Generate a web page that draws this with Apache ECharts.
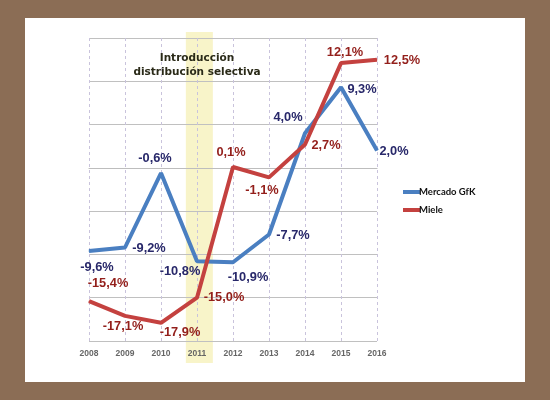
<!DOCTYPE html>
<html><head><meta charset="utf-8">
<script src="https://cdn.jsdelivr.net/npm/echarts@6/dist/echarts.min.js"></script>
<style>
html,body{margin:0;padding:0;background:#8B6D55;width:550px;height:400px;overflow:hidden;}
#frame{position:absolute;left:25px;top:18px;width:500px;height:364px;background:#fff;}
#chart{position:absolute;left:0;top:0;width:550px;height:400px;}
</style>
</head><body>
<div id="frame"></div>
<div id="chart"></div>
<script>
const years = ['2008','2009','2010','2011','2012','2013','2014','2015','2016'];
const gfk = [-9.6, -9.2, -0.6, -10.8, -10.9, -7.7, 4.0, 9.3, 2.0];
const miele = [-15.4, -17.1, -17.9, -15.0, 0.1, -1.1, 2.7, 12.1, 12.5];
const highlightYear = '2011';
const annotation = 'Introducción\ndistribución selectiva';

// label placement (pixel offsets from each point)
const gfkLabelOffsets = [[8,17],[24,1],[-6,-15],[-17,10],[15,15],[24,1],[-17,-16],[21,2],[17,1]];
const mieleLabelOffsets = [[19,-18],[-2,11],[19,10],[27,0],[-2,-15],[-7,13],[21,1],[4,-11],[25,1]];

const fmt = v => v.toFixed(1).replace('.', ',') + '%';

function buildData(vals, offs) {
  return vals.map((v, i) => ({
    value: v,
    label: { offset: offs[i] }
  }));
}

const chart = echarts.init(document.getElementById('chart'));
const labelBase = (color) => ({
  show: true, position: 'inside', color: color,
  fontFamily: 'Liberation Sans, Arial, sans-serif', fontWeight: 'bold', fontSize: 12.8,
  formatter: p => fmt(p.value)
});

chart.setOption({
  animation: false,
  grid: { left: 89, right: 173, top: 38, bottom: 59, containLabel: false },
  legend: {
    orient: 'vertical', left: 398, top: 182, itemGap: 8,
    itemWidth: 17, itemHeight: 4, icon: 'rect',
    textStyle: { fontFamily: 'Lato, sans-serif', fontWeight: 'bold', fontSize: 9.5, color: '#111', padding: [0,0,0,-6] },
    data: ['Mercado GfK', 'Miele']
  },
  xAxis: {
    type: 'category', data: years, boundaryGap: false,
    axisLine: { show: true, lineStyle: { color: '#BDBDBD', width: 1.2 } },
    axisTick: { show: false },
    axisLabel: { color: '#666666', fontFamily: 'Liberation Sans, Arial, sans-serif', fontWeight: 'bold', fontSize: 8.5, margin: 8 },
    splitLine: { show: true, lineStyle: { color: '#C9C3DC', type: [3,3], width: 1 } }
  },
  yAxis: {
    type: 'value', min: -20, max: 15, interval: 5,
    axisLine: { show: false }, axisTick: { show: false }, axisLabel: { show: false },
    splitLine: { show: true, lineStyle: { color: '#C0C0C0', width: 1.2 } }
  },
  series: [
    {
      name: 'Mercado GfK', type: 'line', data: buildData(gfk, gfkLabelOffsets),
      symbol: 'circle', symbolSize: 1, showSymbol: true,
      lineStyle: { color: '#4A7FC1', width: 4 }, itemStyle: { color: '#4A7FC1' },
      label: labelBase('#28286A'), z: 3
    },
    {
      name: 'Miele', type: 'line', data: buildData(miele, mieleLabelOffsets),
      symbol: 'circle', symbolSize: 1, showSymbol: true,
      lineStyle: { color: '#C4413F', width: 4 }, itemStyle: { color: '#C4413F' },
      label: labelBase('#931F1B'), z: 4
    }
  ]
});

const xh = chart.convertToPixel({ xAxisIndex: 0 }, highlightYear);
const xn = chart.convertToPixel({ xAxisIndex: 0 }, years[years.indexOf(highlightYear) + 1]);
const step = xn - xh;
const yTop = chart.convertToPixel({ yAxisIndex: 0 }, 15);
const yBot = chart.convertToPixel({ yAxisIndex: 0 }, -20);
chart.setOption({
  graphic: [
    { type: 'rect', z: -1, silent: true,
      shape: { x: xh - 0.31 * step, y: yTop - 6, width: 0.75 * step, height: (yBot - yTop) + 28 },
      style: { fill: '#F8F4C9' } },
    { type: 'text', z: 10, silent: true, x: xh, y: yTop + 27,
      style: { text: annotation, align: 'center', verticalAlign: 'middle', lineHeight: 14,
        fill: '#2A2A18', font: 'bold 10.5px "DejaVu Sans", Verdana, sans-serif' } }
  ]
});
</script>
</body></html>
